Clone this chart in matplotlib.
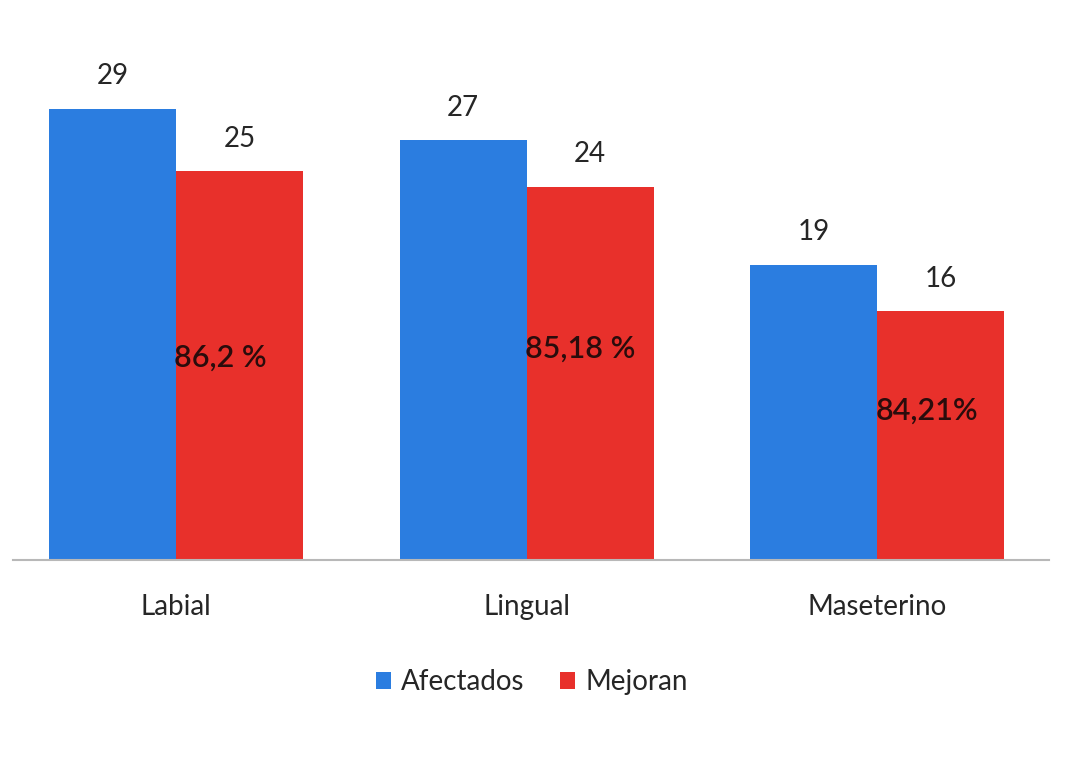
import matplotlib
matplotlib.use('Agg')
import matplotlib.pyplot as plt
import numpy as np

# data
categories = ['Labial', 'Lingual', 'Maseterino']
afectados = [29, 27, 19]
mejoran = [25, 24, 16]
porcentajes = ['86,2 %', '85,18 %', '84,21%']

blue = '#2b7de0'
red = '#e8302b'

plt.rcParams['font.family'] = ['Lato', 'DejaVu Sans']

fig = plt.figure(figsize=(10.74, 7.76), dpi=100)
ax = fig.add_axes([0.012, 0.278, 0.965, 0.67])

x = np.arange(len(categories))
w = 0.362
b1 = ax.bar(x - w / 2, afectados, w, color=blue, label='Afectados')
b2 = ax.bar(x + w / 2, mejoran, w, color=red, label='Mejoran')

# value labels above bars
for rect, v in zip(list(b1) + list(b2), afectados + mejoran):
    ax.annotate(f'{v}', (rect.get_x() + rect.get_width() / 2, v),
                xytext=(0, 14), textcoords='offset points',
                ha='center', va='bottom', fontsize=20, color='#262626')

# percentages inside the red bars, starting at their left edge
ypct = [13, 13.6, 9.6]
for rect, p, yp in zip(b2, porcentajes, ypct):
    ax.text(rect.get_x() - 0.005, yp, p, ha='left', va='center',
            fontsize=22, fontweight='semibold', color='#2a0c0c')

ax.set_xlim(-0.465, 2.49)
ax.set_ylim(0, 33.4)
ax.set_xticks(x)
ax.set_xticklabels(categories, fontsize=20, color='#262626')
ax.tick_params(axis='x', length=0, pad=24)
ax.set_yticks([])
for s in ['top', 'right', 'left']:
    ax.spines[s].set_visible(False)
ax.spines['bottom'].set_color('#b8b8b8')
ax.spines['bottom'].set_linewidth(1.5)

fig.legend(loc='center', bbox_to_anchor=(0.495, 0.121), ncol=2, frameon=False,
           fontsize=20, handlelength=0.55, handleheight=0.55, handletextpad=0.35,
           columnspacing=1.3, labelcolor='#262626')

fig.savefig('out.png', dpi=100)
